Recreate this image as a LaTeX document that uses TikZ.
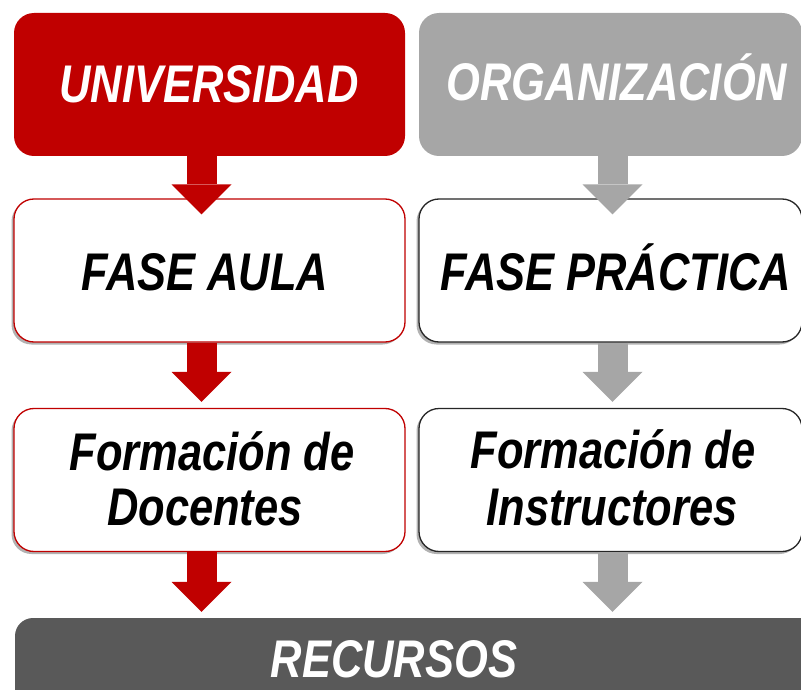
\documentclass[tikz,border=0pt]{standalone}
\usepackage{fontspec}
\newfontfamily\lsb[FakeStretch=0.82]{Liberation Sans}
\usetikzlibrary{arrows.meta,shadows}
\definecolor{ured}{HTML}{C00000}
\definecolor{ogray}{HTML}{A6A6A6}
\definecolor{rgray}{HTML}{595959}
\begin{document}
\begin{tikzpicture}[x=1pt,y=-1pt,
  box/.style={rectangle, rounded corners=20pt, inner sep=0pt, minimum height=143pt},
  lbox/.style={box, minimum width=391pt},
  rbox/.style={box, minimum width=383pt},
  wbox/.style={fill=white, line width=1.3pt,
    drop shadow={shadow xshift=-2.5pt, shadow yshift=-2.5pt, opacity=0.3, fill=black}},
  lbl/.style={anchor=base, inner sep=0pt, font=\lsb\bfseries\itshape\fontsize{53}{55}\selectfont},
  redarr/.style={line width=30pt, draw=ured, -{Triangle[width=60pt,length=30pt,line width=0pt]}},
  grayarr/.style={line width=30pt, draw=ogray, -{Triangle[width=60pt,length=30pt,line width=0pt]}}]
\useasboundingbox (0,0) rectangle (801,690);
\clip (0,0) rectangle (801,690);

% boxes
\node[lbox, fill=ured] (univ) at (209.5,84.5) {};
\node[rbox, fill=ogray] (org) at (610.5,84.5) {};
\node[lbox, wbox, draw=ured] (aula) at (209.5,270.5) {};
\node[rbox, wbox, draw=black!85] (prac) at (610.5,270.5) {};
\node[lbox, wbox, draw=ured] (doc) at (209.5,480) {};
\node[rbox, wbox, draw=black!85] (ins) at (610.5,480) {};
\node[box, rounded corners=18pt, fill=rgray, minimum width=830pt, minimum height=120pt] (rec) at (430,678) {};

% texts
\node[lbl, text=white] (tu) at (209,103) {UNIVERSIDAD};
\node[lbl, text=white] (to) at (617,101) {ORGANIZACIÓN};
\node[lbl] (ta) at (205,290) {FASE AULA};
\node[lbl] (tp) at (616,290) {FASE PRÁCTICA};
\node[lbl] (td1) at (212,470) {Formación de};
\node[lbl] (td2) at (205,525) {Docentes};
\node[lbl] (ti1) at (613,468) {Formación de};
\node[lbl] (ti2) at (612,525) {Instructores};
\node[lbl, text=white] (tr) at (394,677) {RECURSOS};

% arrows
\draw[redarr, shorten >=-16pt] ([xshift=-8pt]univ.south) -- ([xshift=-8pt]aula.north);
\draw[grayarr, shorten >=-16pt] ([xshift=2pt]org.south) -- ([xshift=2pt]prac.north);
\draw[redarr, shorten >=6pt] ([xshift=-8pt]aula.south) -- ([xshift=-8pt]doc.north);
\draw[grayarr, shorten >=6pt] ([xshift=2pt]prac.south) -- ([xshift=2pt]ins.north);
\coordinate (a3l) at ([xshift=-8pt]doc.south);
\coordinate (a3r) at ([xshift=2pt]ins.south);
\draw[redarr, shorten >=6pt] (a3l) -- (a3l |- rec.north);
\draw[grayarr, shorten >=6pt] (a3r) -- (a3r |- rec.north);
\end{tikzpicture}
\end{document}
